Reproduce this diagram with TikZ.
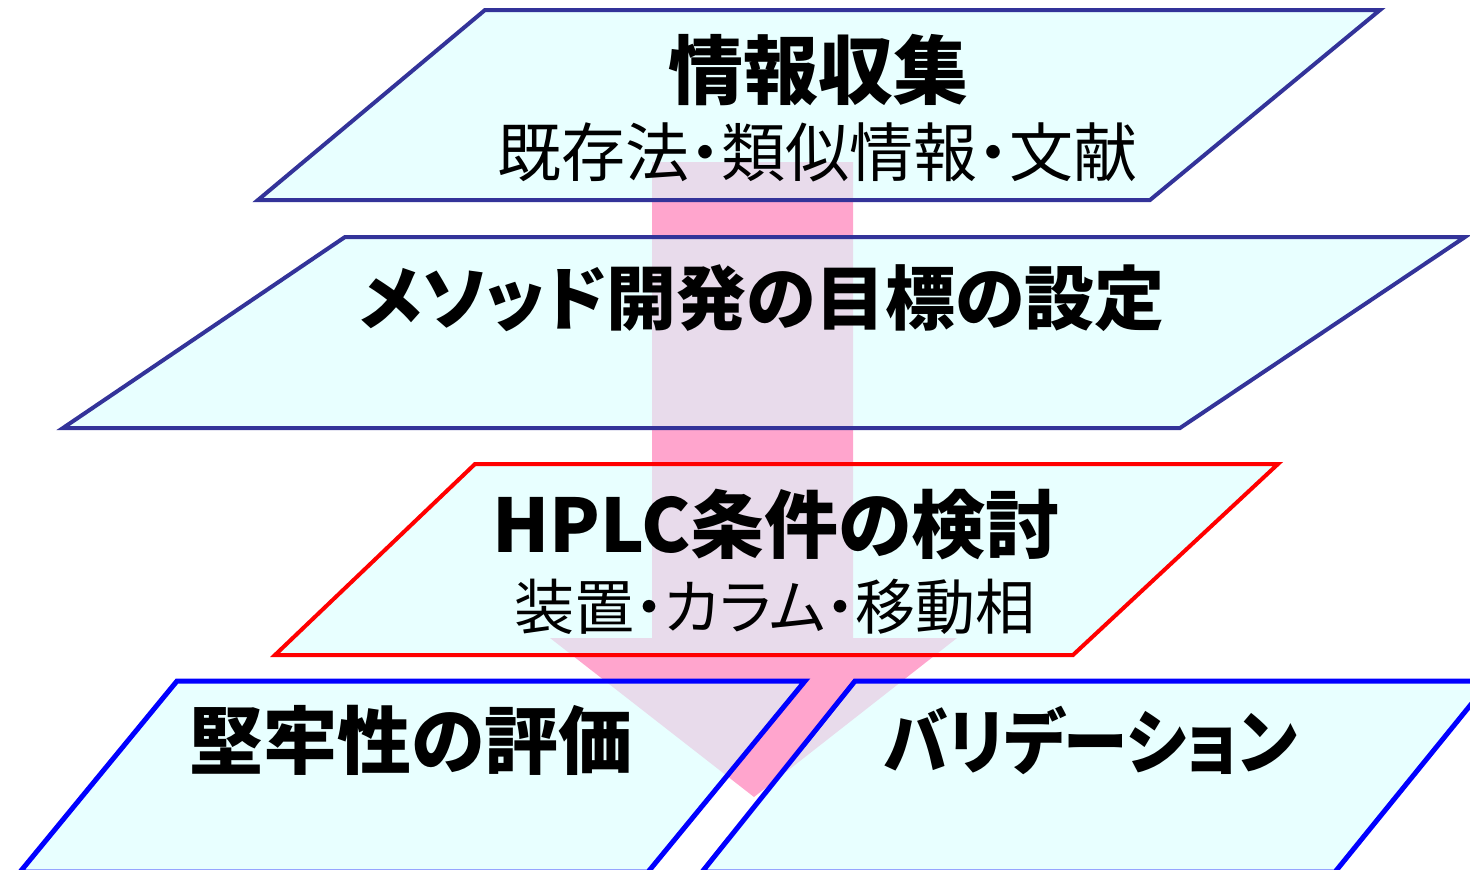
\documentclass[tikz,border=0pt]{standalone}
\usepackage{fontspec}
\newfontfamily\jp{Noto Sans CJK JP}[RawFeature=+palt]
\definecolor{shapefill}{RGB}{217,255,255}
\definecolor{navyline}{RGB}{51,51,153}
\definecolor{redline}{RGB}{255,0,0}
\definecolor{blueline}{RGB}{0,0,255}
\definecolor{arrowpink}{RGB}{255,165,205}
\tikzset{
  plate/.style={fill=shapefill, fill opacity=0.6, draw opacity=1, line width=4pt, line join=miter},
  titletext/.style={font=\jp\bfseries\fontsize{#1}{#1}\selectfont, inner sep=0pt, anchor=center},
  titletext/.default=70,
  subtext/.style={font=\jp\fontsize{#1}{#1}\selectfont, inner sep=0pt, anchor=center},
  subtext/.default=60,
}
\begin{document}
\begin{tikzpicture}[x=1pt,y=-1pt]
\useasboundingbox (0,0) rectangle (1470,870);
\clip (0,0) rectangle (1470,870);
% big pink arrow behind the plates
\fill[arrowpink] (652,162) -- (853,162) -- (853,638) -- (957,638) -- (754,797) -- (550,638) -- (652,638) -- cycle;
% plates
\draw[plate, draw=navyline] (258,200) -- (485,10) -- (1380,10) -- (1150,200) -- cycle;
\draw[plate, draw=navyline] (63,428) -- (345,237) -- (1465,237) -- (1180,428) -- cycle;
\draw[plate, draw=redline] (275,655) -- (475,464) -- (1278,464) -- (1073,655) -- cycle;
\draw[plate, draw=blueline, line width=5pt] (20,872) -- (177,681) -- (805,681) -- (648,872) -- cycle;
\draw[plate, draw=blueline, line width=5pt] (702,872) -- (855,681) -- (1490,681) -- (1335,872) -- cycle;
% texts
\node[titletext=75] (t1) at (818,70) {情報収集};
\node[subtext=64] (s1) at (817,152) {既存法・類似情報・文献};
\node[titletext=70] (t2) at (762,298) {メソッド開発の目標の設定};
\node[titletext=74] (t3) at (776,525) {HPLC条件の検討};
\node[subtext=60] (s3) at (775,607) {装置・カラム・移動相};
\node[titletext=74] (t4) at (411,740) {堅牢性の評価};
\node[titletext=71, xscale=0.91] (t5) at (1091,740) {バリデーション};
\end{tikzpicture}
\end{document}
